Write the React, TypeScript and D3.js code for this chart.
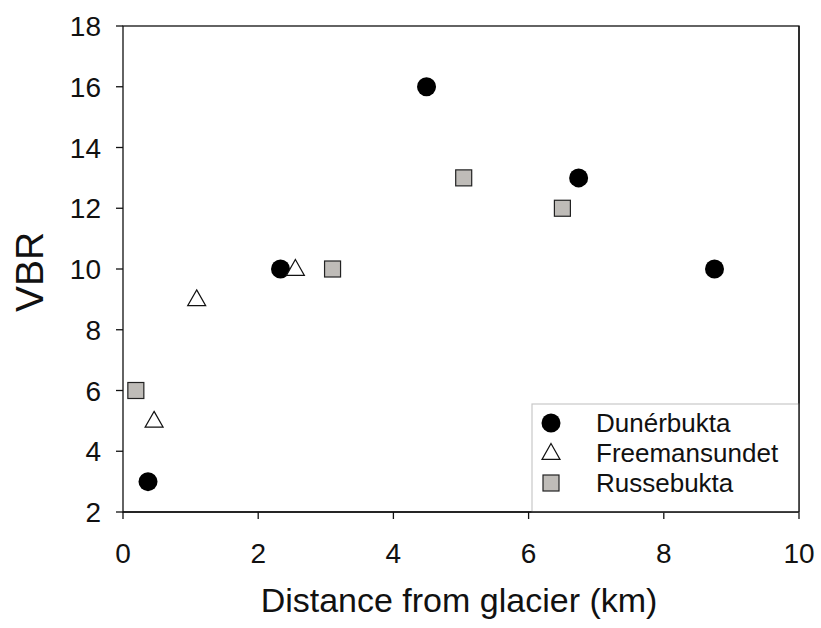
import React from 'react';
import * as d3 from 'd3';

const dunerX = [0.37, 2.33, 4.49, 6.74, 8.75];
const dunerY = [3, 10, 16, 13, 10];
const freemanX = [0.46, 1.09, 2.55];
const freemanY = [5, 9, 10];
const russeX = [0.19, 3.1, 5.04, 6.5];
const russeY = [6, 10, 13, 12];
const xTicks = [0, 2, 4, 6, 8, 10];
const yTicks = [2, 4, 6, 8, 10, 12, 14, 16, 18];
const seriesNames = ['Dunérbukta', 'Freemansundet', 'Russebukta'];

const W = 821;
const H = 628;
const left = 123, right = 799, top = 26, bottom = 512;
const FONT = 'Arial, "Liberation Sans", sans-serif';

const triPath = (cx: number, cy: number, s = 18) => {
  const h = s * 0.88;
  return `M${cx},${cy - h * 0.6}L${cx + s / 2},${cy + h * 0.4}L${cx - s / 2},${cy + h * 0.4}Z`;
};

export default function App() {
  const x = d3.scaleLinear([0, 10], [left, right]);
  const y = d3.scaleLinear([2, 18], [bottom, top]);

  const circle = (cx: number, cy: number, k: string) => (
    <circle key={k} cx={cx} cy={cy} r={9.5} fill="#000" />
  );
  const square = (cx: number, cy: number, k: string) => (
    <rect key={k} x={cx - 8} y={cy - 8} width={16} height={16} fill="#bfbcb8" stroke="#222" strokeWidth={1.2} />
  );
  const tri = (cx: number, cy: number, k: string) => (
    <path key={k} d={triPath(cx, cy)} fill="#fff" stroke="#111" strokeWidth={1.2} />
  );

  const legendX = 532, legendY = 404;
  const rows = [423, 453, 483];

  return (
    <svg width={W} height={H} style={{ position: 'absolute', left: 0, top: 0, background: '#fff' }} fontFamily={FONT}>
      <rect x={0} y={0} width={W} height={H} fill="#fff" />
      {/* frame */}
      <rect x={left} y={top} width={right - left} height={bottom - top} fill="none" stroke="#111" strokeWidth={1.3} />

      {/* y axis ticks */}
      {yTicks.map(t => (
        <g key={'y' + t}>
          <line x1={left - 7} x2={left} y1={y(t)} y2={y(t)} stroke="#111" strokeWidth={1.3} />
          <text x={101} y={y(t)} dy="0.36em" textAnchor="end" fontSize={28} fill="#111">{t}</text>
        </g>
      ))}
      {/* x axis ticks */}
      {xTicks.map(t => (
        <g key={'x' + t}>
          <line x1={x(t)} x2={x(t)} y1={bottom} y2={bottom + 7} stroke="#111" strokeWidth={1.3} />
          <text x={x(t)} y={563} textAnchor="middle" fontSize={28} fill="#111">{t}</text>
        </g>
      ))}

      <text x={459} y={612} textAnchor="middle" fontSize={34} fill="#111">Distance from glacier (km)</text>
      <text transform={`translate(43,272) rotate(-90)`} textAnchor="middle" fontSize={39} fill="#111">VBR</text>

      {/* legend */}
      <rect x={legendX} y={legendY} width={right - legendX} height={bottom - legendY} fill="#fff" stroke="#c8c8c8" strokeWidth={1.2} />
      {circle(551, rows[0], 'lc')}
      {tri(551, rows[1], 'lt')}
      {square(551, rows[2], 'ls')}
      {seriesNames.map((n, i) => (
        <text key={n} x={596} y={rows[i]} dy="0.36em" fontSize={26} fill="#111">{n}</text>
      ))}
      {/* redraw frame edges over legend */}
      <line x1={right} x2={right} y1={top} y2={bottom} stroke="#111" strokeWidth={1.3} />
      <line x1={left} x2={right} y1={bottom} y2={bottom} stroke="#111" strokeWidth={1.3} />

      {/* data */}
      {dunerX.map((d, i) => circle(x(d), y(dunerY[i]), 'd' + i))}
      {freemanX.map((d, i) => tri(x(d), y(freemanY[i]), 'f' + i))}
      {russeX.map((d, i) => square(x(d), y(russeY[i]), 'r' + i))}
    </svg>
  );
}
